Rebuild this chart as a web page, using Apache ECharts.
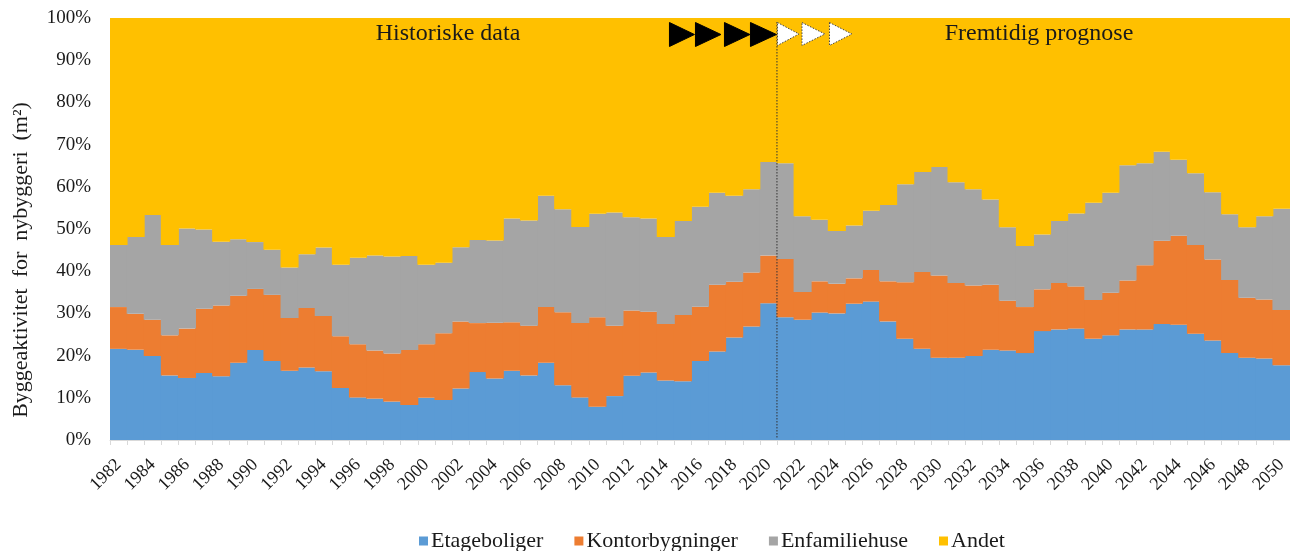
<!DOCTYPE html>
<html>
<head>
<meta charset="utf-8">
<script src="https://cdn.jsdelivr.net/npm/echarts@6/dist/echarts.min.js"></script>
<style>
  html, body { margin: 0; padding: 0; background: #ffffff; }
  #chart { width: 1290px; height: 551px; }
</style>
</head>
<body>
<div id="chart"></div>
<script>
// Years on the category axis (historic data up to 2020, forecast from 2021)
const years = [
  '1982','1983','1984','1985','1986','1987','1988','1989','1990','1991',
  '1992','1993','1994','1995','1996','1997','1998','1999','2000','2001',
  '2002','2003','2004','2005','2006','2007','2008','2009','2010','2011',
  '2012','2013','2014','2015','2016','2017','2018','2019','2020','2021',
  '2022','2023','2024','2025','2026','2027','2028','2029','2030','2031',
  '2032','2033','2034','2035','2036','2037','2038','2039','2040','2041',
  '2042','2043','2044','2045','2046','2047','2048','2049','2050'
];

// Share of new-build floor area per building type (% of total)
const etageboliger = [
  21.6, 21.4, 19.9, 15.3, 14.7, 15.9, 15.1, 18.3, 21.3, 18.7,
  16.4, 17.2, 16.3, 12.3, 10.1, 9.8, 9.1, 8.3, 10.0, 9.5,
  12.2, 16.1, 14.6, 16.4, 15.3, 18.3, 13.0, 10.1, 7.9, 10.4,
  15.2, 16.0, 14.1, 13.9, 18.7, 21.0, 24.3, 26.9, 32.4, 29.1,
  28.5, 30.2, 30.0, 32.3, 32.8, 28.1, 24.0, 21.6, 19.5, 19.5,
  19.9, 21.4, 21.2, 20.6, 25.8, 26.2, 26.4, 24.0, 24.8, 26.2,
  26.2, 27.5, 27.3, 25.2, 23.6, 20.6, 19.5, 19.3, 17.7
];
const kontorbygninger = [
  9.9, 8.5, 8.6, 9.5, 11.7, 15.2, 16.8, 15.9, 14.5, 15.7,
  12.5, 14.1, 13.1, 12.3, 12.6, 11.4, 11.4, 13.0, 12.7, 15.8,
  15.9, 11.6, 13.2, 11.5, 11.8, 13.2, 17.3, 17.6, 21.2, 16.7,
  15.5, 14.4, 13.4, 15.7, 12.9, 15.8, 13.2, 12.8, 11.3, 13.8,
  6.6, 7.4, 7.0, 6.0, 7.5, 9.5, 13.4, 18.2, 19.5, 17.7,
  16.7, 15.4, 11.8, 10.9, 9.9, 11.0, 10.0, 9.2, 10.1, 11.6,
  15.2, 19.7, 21.1, 21.0, 19.2, 17.3, 14.2, 14.0, 13.1
];
const enfamiliehuse = [
  14.7, 18.2, 24.8, 21.4, 23.7, 18.8, 15.1, 13.4, 11.1, 10.7,
  12.0, 12.7, 16.2, 16.9, 20.5, 22.5, 23.0, 22.3, 18.8, 16.7,
  17.6, 19.7, 19.5, 24.6, 24.9, 26.4, 24.4, 22.8, 24.5, 26.8,
  22.1, 22.1, 20.6, 22.3, 23.7, 21.8, 20.4, 19.7, 22.2, 22.7,
  17.9, 14.6, 12.5, 12.5, 14.0, 18.1, 23.2, 23.7, 25.7, 23.9,
  22.8, 20.2, 17.4, 14.5, 13.0, 14.7, 17.3, 23.0, 23.7, 27.3,
  24.2, 21.1, 18.0, 17.0, 15.9, 15.6, 16.7, 19.7, 24.0
];
const andet = [
  53.8, 51.9, 46.7, 53.8, 49.9, 50.1, 53.0, 52.4, 53.1, 54.9,
  59.1, 56.0, 54.4, 58.5, 56.8, 56.3, 56.5, 56.4, 58.5, 58.0,
  54.3, 52.6, 52.7, 47.5, 48.0, 42.1, 45.3, 49.5, 46.4, 46.1,
  47.2, 47.5, 51.9, 48.1, 44.7, 41.4, 42.1, 40.6, 34.1, 34.4,
  47.0, 47.8, 50.5, 49.2, 45.7, 44.3, 39.4, 36.5, 35.3, 38.9,
  40.6, 43.0, 49.6, 54.0, 51.3, 48.1, 46.3, 43.8, 41.4, 34.9,
  34.4, 31.7, 33.6, 36.8, 41.3, 46.5, 49.6, 47.0, 45.2
];

const seriesNames = ['Etageboliger', 'Kontorbygninger', 'Enfamiliehuse', 'Andet'];
const seriesData = [etageboliger, kontorbygninger, enfamiliehuse, andet];
const colors = ['#5B9BD5', '#ED7D31', '#A5A5A5', '#FFC000'];
const firstForecastYear = '2021';

const serif = "'Times New Roman', 'Liberation Serif', serif";

const gridLeft = 110, gridTop = 18, gridWidth = 1183, gridHeight = 422;
// bars a hair wider than the band so neighbouring columns close up without seams
const barW = gridWidth / years.length + 0.9;

const chart = echarts.init(document.getElementById('chart'), null, { renderer: 'canvas' });

chart.setOption({
  animation: false,
  color: colors,
  textStyle: { fontFamily: serif },
  grid: { left: gridLeft, top: gridTop, width: gridWidth, height: gridHeight },
  legend: {
    data: seriesNames,
    left: 414,
    top: 525,
    icon: 'rect',
    itemWidth: 9,
    itemHeight: 9,
    itemGap: 31,
    textStyle: { fontFamily: serif, fontSize: 22, color: '#1a1a1a', padding: [0, 0, 0, -2] }
  },
  xAxis: {
    type: 'category',
    data: years,
    boundaryGap: true,
    axisLine: { show: true, lineStyle: { color: '#d9d9d9', width: 1 } },
    axisTick: { show: true, interval: 0, length: 5, lineStyle: { color: '#d9d9d9' } },
    axisLabel: {
      interval: 1,
      rotate: 45,
      margin: 22,
      fontFamily: serif,
      fontSize: 18,
      color: '#1a1a1a'
    },
    splitLine: { show: false }
  },
  yAxis: {
    type: 'value',
    min: 0,
    max: 100,
    interval: 10,
    axisLine: { show: false },
    axisTick: { show: false },
    splitLine: { show: false },
    axisLabel: {
      formatter: '{value}%',
      margin: 19,
      fontFamily: serif,
      fontSize: 19,
      color: '#1a1a1a'
    }
  },
  series: seriesNames.map((name, i) => ({
    name: name,
    type: 'bar',
    stack: 'andel',
    barWidth: barW,
    barGap: '0%',
    data: seriesData[i],
    itemStyle: { color: colors[i] },
    emphasis: { disabled: true }
  }))
});

// Divider between historic data and forecast, with direction arrows and captions
const pxA = chart.convertToPixel({ xAxisIndex: 0 }, firstForecastYear);
const pxB = chart.convertToPixel({ xAxisIndex: 0 }, years[years.indexOf(firstForecastYear) - 1]);
const divX = (pxA + pxB) / 2;
const yTop = chart.convertToPixel({ yAxisIndex: 0 }, 100);
const yBottom = chart.convertToPixel({ yAxisIndex: 0 }, 0);

function tri(x0, w, y0, h, fill, stroke, dashed) {
  return {
    type: 'polygon',
    shape: { points: [[x0, y0], [x0 + w, y0 + h / 2], [x0, y0 + h]] },
    style: { fill: fill, stroke: stroke, lineWidth: 1, lineDash: dashed ? [1.5, 1.5] : null },
    z: 20
  };
}

const graphics = [
  {
    type: 'line',
    shape: { x1: divX, y1: yTop + 4, x2: divX, y2: yBottom - 2 },
    style: { stroke: '#333333', lineWidth: 1, lineDash: [1.5, 1.5] },
    z: 19
  },
  tri(divX - 107.5, 25, 22.5, 24, '#000000', '#000000', false),
  tri(divX - 81.5, 25.5, 22.5, 24, '#000000', '#000000', false),
  tri(divX - 52.5, 25.5, 22.5, 24, '#000000', '#000000', false),
  tri(divX - 26.5, 26, 22.5, 24, '#000000', '#000000', false),
  tri(divX + 0.5, 21.5, 22.5, 23, '#ffffff', '#444444', true),
  tri(divX + 25, 23, 22.5, 23, '#ffffff', '#444444', true),
  tri(divX + 52.5, 22.5, 22.5, 23, '#ffffff', '#444444', true),
  {
    type: 'text',
    x: 448, y: 34,
    style: { text: 'Historiske data', fontFamily: serif, fontSize: 24, fill: '#1a1a1a', align: 'center', verticalAlign: 'middle' },
    z: 20
  },
  {
    type: 'text',
    x: 1039, y: 34,
    style: { text: 'Fremtidig prognose', fontFamily: serif, fontSize: 24, fill: '#1a1a1a', align: 'center', verticalAlign: 'middle' },
    z: 20
  },
  {
    type: 'text',
    x: 21, y: 260,
    rotation: Math.PI / 2,
    style: { text: 'Byggeaktivitet  for  nybyggeri  (m²)', fontFamily: serif, fontSize: 22, fill: '#1a1a1a', align: 'center', verticalAlign: 'middle' },
    z: 20
  }
];

chart.setOption({ graphic: graphics });
</script>
</body>
</html>
